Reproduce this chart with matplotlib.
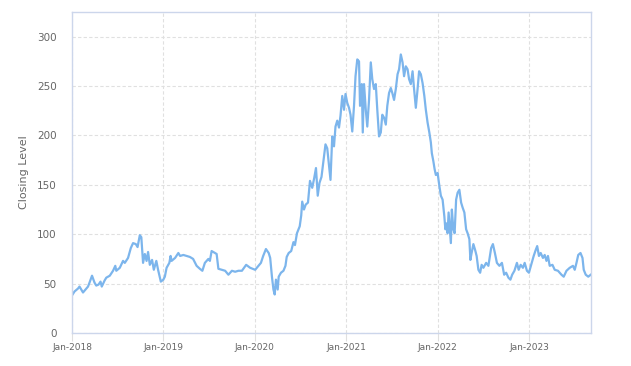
import pandas as pd
import matplotlib
matplotlib.use("Agg")
import matplotlib.pyplot as plt
import matplotlib.dates as mdates

# closing levels
dates = [
    "2018-01-01", "2018-01-11", "2018-01-25", "2018-01-31", "2018-02-14", "2018-03-06",
    "2018-03-12", "2018-03-22", "2018-04-01", "2018-04-08", "2018-04-17", "2018-04-25",
    "2018-04-30", "2018-05-11", "2018-05-18", "2018-06-01", "2018-06-14", "2018-06-23",
    "2018-06-27", "2018-07-11", "2018-07-24", "2018-07-31", "2018-08-13", "2018-08-24",
    "2018-09-02", "2018-09-13", "2018-09-20", "2018-09-29", "2018-10-05", "2018-10-12",
    "2018-10-19", "2018-10-26", "2018-11-01", "2018-11-08", "2018-11-17", "2018-11-24",
    "2018-12-04", "2018-12-11", "2018-12-22",
    "2019-01-01", "2019-01-07", "2019-01-14", "2019-01-25", "2019-01-30", "2019-02-03",
    "2019-02-17", "2019-03-02", "2019-03-09", "2019-03-22", "2019-04-04", "2019-04-17",
    "2019-04-30", "2019-05-14", "2019-05-27", "2019-06-06", "2019-06-16", "2019-06-30",
    "2019-07-06", "2019-07-13", "2019-07-26", "2019-08-02", "2019-08-09", "2019-08-22",
    "2019-09-05", "2019-09-18", "2019-10-02", "2019-10-15", "2019-10-28", "2019-11-11",
    "2019-11-28", "2019-12-14",
    "2020-01-03", "2020-01-13", "2020-01-26", "2020-02-04", "2020-02-15", "2020-02-26",
    "2020-03-03", "2020-03-10", "2020-03-16", "2020-03-21", "2020-03-26", "2020-04-02",
    "2020-04-06", "2020-04-15", "2020-04-25", "2020-05-03", "2020-05-08", "2020-05-16",
    "2020-05-26", "2020-06-04", "2020-06-10", "2020-06-18", "2020-06-29", "2020-07-05",
    "2020-07-09", "2020-07-16", "2020-07-23", "2020-08-01", "2020-08-09", "2020-08-18",
    "2020-08-26", "2020-09-02", "2020-09-09", "2020-09-16", "2020-09-24", "2020-10-03",
    "2020-10-10", "2020-10-17", "2020-10-23", "2020-10-30", "2020-11-06", "2020-11-13",
    "2020-11-19", "2020-11-26", "2020-12-03", "2020-12-09", "2020-12-16", "2020-12-23",
    "2020-12-29",
    "2021-01-05", "2021-01-12", "2021-01-18", "2021-01-25", "2021-02-01", "2021-02-07",
    "2021-02-14", "2021-02-21", "2021-02-25", "2021-03-04", "2021-03-08", "2021-03-13",
    "2021-03-20", "2021-03-26", "2021-04-02", "2021-04-09", "2021-04-15", "2021-04-22",
    "2021-04-29", "2021-05-05", "2021-05-12", "2021-05-19", "2021-05-25", "2021-06-01",
    "2021-06-08", "2021-06-14", "2021-06-21", "2021-06-28", "2021-07-04", "2021-07-11",
    "2021-07-18", "2021-07-25", "2021-07-31", "2021-08-07", "2021-08-14", "2021-08-20",
    "2021-08-27", "2021-09-03", "2021-09-09", "2021-09-16", "2021-09-23", "2021-09-29",
    "2021-10-06", "2021-10-13", "2021-10-19", "2021-10-26", "2021-11-02", "2021-11-09",
    "2021-11-15", "2021-11-22", "2021-11-29", "2021-12-05", "2021-12-09", "2021-12-15",
    "2021-12-20", "2021-12-25",
    "2022-01-01", "2022-01-08", "2022-01-14", "2022-01-21", "2022-01-28", "2022-02-01",
    "2022-02-06", "2022-02-10", "2022-02-14", "2022-02-19", "2022-02-23", "2022-02-27",
    "2022-03-05", "2022-03-10", "2022-03-16", "2022-03-22", "2022-03-29", "2022-04-05",
    "2022-04-11", "2022-04-18", "2022-04-25", "2022-05-01", "2022-05-08", "2022-05-12",
    "2022-05-17", "2022-05-24", "2022-05-31", "2022-06-06", "2022-06-13", "2022-06-20",
    "2022-06-26", "2022-07-03", "2022-07-14", "2022-07-23", "2022-08-03", "2022-08-10",
    "2022-08-18", "2022-08-26", "2022-09-05", "2022-09-15", "2022-09-24", "2022-10-02",
    "2022-10-11", "2022-10-19", "2022-10-26", "2022-11-04", "2022-11-14", "2022-11-21",
    "2022-11-29", "2022-12-08", "2022-12-15", "2022-12-24",
    "2023-01-01", "2023-01-10", "2023-01-20", "2023-01-28", "2023-02-03", "2023-02-10",
    "2023-02-17", "2023-02-26", "2023-03-05", "2023-03-12", "2023-03-18", "2023-03-25",
    "2023-04-05", "2023-04-14", "2023-04-27", "2023-05-11", "2023-05-20", "2023-05-31",
    "2023-06-13", "2023-06-26", "2023-07-03", "2023-07-10", "2023-07-17", "2023-07-26",
    "2023-08-03", "2023-08-08", "2023-08-16", "2023-08-26", "2023-09-05",
]

closing = [
    38, 42, 45, 47, 41, 47,
    51, 58, 51, 48, 49, 52,
    47, 53, 56, 58, 63, 68,
    63, 66, 73, 71, 76, 86,
    91, 90, 87, 99, 97, 71,
    80, 73, 82, 69, 74, 64,
    73, 64, 52,
    54, 57, 66, 71, 78, 73,
    76, 81, 78, 79, 78, 77,
    75, 68, 65, 63, 71, 75,
    73, 83, 81, 80, 65, 64,
    63, 59, 63, 62, 63, 63,
    69, 66,
    64, 67, 71, 78, 85, 81,
    76, 57, 44, 39, 54, 44,
    57, 61, 63, 68, 77, 81,
    83, 92, 89, 101, 108, 119,
    133, 125, 130, 132, 154, 147,
    157, 167, 139, 152, 158, 177,
    191, 187, 172, 155, 199, 189,
    209, 215, 208, 220, 240, 226,
    242,
    233, 228, 221, 204, 230, 260,
    277, 275, 230, 252, 203, 252,
    226, 209, 236, 274, 257, 247,
    252, 226, 199, 203, 221, 218,
    211, 230, 243, 248, 243, 236,
    247, 262, 267, 282, 274, 260,
    270, 267, 257, 252, 265, 247,
    228, 247, 265, 262, 253, 240,
    226, 213, 203, 193, 182, 174,
    166, 160,
    162, 149, 139, 135, 118, 105,
    111, 101, 122, 105, 91, 125,
    105, 101, 135, 142, 145, 132,
    127, 122, 105, 101, 95, 74,
    81, 90, 84, 78, 64, 61,
    69, 66, 71, 68, 86, 90,
    81, 71, 68, 71, 59, 61,
    56, 54, 59, 63, 71, 64,
    69, 66, 71, 63,
    61, 69, 78, 84, 88, 78,
    81, 76, 79, 73, 78, 68,
    69, 64, 63, 59, 57, 63,
    66, 68, 64, 71, 79, 81,
    76, 64, 59, 57, 59,
]

x = pd.to_datetime(dates)

text_col = "#666666"
grid_col = "#e0e0e0"
spine_col = "#ccd6eb"

fig = plt.figure(figsize=(6.31, 3.66), dpi=100)
ax = fig.add_axes([0.1141, 0.0902, 0.8225, 0.877])

ax.plot(x, closing, color="#7cb5ec", linewidth=1.6)

ax.set_xlim(pd.Timestamp("2018-01-01"), pd.Timestamp("2023-09-06"))
ax.set_ylim(0, 325)
ax.set_yticks([0, 50, 100, 150, 200, 250, 300])

ax.xaxis.set_major_locator(mdates.YearLocator())
ax.xaxis.set_major_formatter(mdates.DateFormatter("%b-%Y"))

ax.grid(True, color=grid_col, linestyle=(0, (3, 2)), linewidth=0.8)
ax.set_axisbelow(True)

for s in ax.spines.values():
    s.set_color(spine_col)
    s.set_linewidth(1.0)

ax.tick_params(axis="y", length=0, pad=11, labelsize=7.5, labelcolor=text_col)
ax.tick_params(axis="x", length=6, width=0.8, color=grid_col, pad=1,
               labelsize=6.5, labelcolor=text_col)

ax.set_ylabel("Closing Level", fontsize=8, color=text_col, labelpad=6)

fig.savefig("out.png", dpi=100)
